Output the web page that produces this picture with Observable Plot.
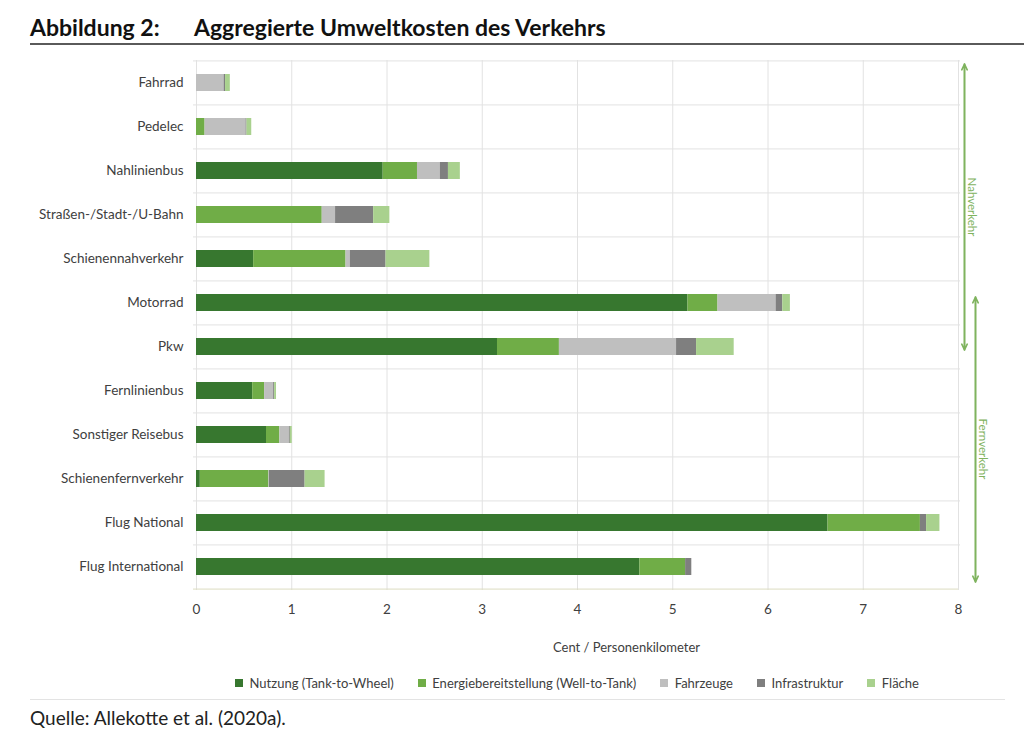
<!DOCTYPE html>
<html><head><meta charset="utf-8">
<script src="https://cdn.jsdelivr.net/npm/d3@7"></script>
<script src="https://cdn.jsdelivr.net/npm/@observablehq/plot@0.6"></script>
<style>
body{margin:0;background:#fff;}
#wrap{position:relative;width:1024px;height:742px;overflow:hidden;font-family:Lato, sans-serif;background:#fff;}
#title{position:absolute;left:30px;top:13px;font-weight:bold;font-size:23px;color:#111;white-space:nowrap;}
#title .t2{position:absolute;left:164px;top:0;}
#hr{position:absolute;left:30px;top:43px;width:994px;height:2px;background:#5a5a5a;}
#chart{position:absolute;left:0;top:50px;}
#legend{position:absolute;left:196px;top:666px;width:762px;display:flex;justify-content:center;}
#legend span{margin-right:24px !important;}
#legend span:last-child{margin-right:0 !important;}
#sep{position:absolute;left:30px;top:699px;width:975px;height:1px;background:#e3e3e3;}
#source{position:absolute;left:30px;top:706px;font-size:19px;color:#222;white-space:nowrap;}
</style>
</head><body>
<div id="wrap">
  <div id="title"><span>Abbildung 2:</span><span class="t2">Aggregierte Umweltkosten des Verkehrs</span></div>
  <div id="hr"></div>
  <div id="chart"></div>
  <div id="legend"></div>
  <div id="sep"></div>
  <div id="source">Quelle: Allekotte et al. (2020a).</div>
</div>
<script>
const categories = ["Fahrrad","Pedelec","Nahlinienbus","Straßen-/Stadt-/U-Bahn","Schienennahverkehr","Motorrad","Pkw","Fernlinienbus","Sonstiger Reisebus","Schienenfernverkehr","Flug National","Flug International"];
const components = ["Nutzung (Tank-to-Wheel)","Energiebereitstellung (Well-to-Tank)","Fahrzeuge","Infrastruktur","Fläche"];
const colors = ["#37772f","#70ad47","#bfbfbf","#7f7f7f","#a9d18e"];

const nutzung       = [0,     0,    1.96,  0,    0.60,  5.16,  3.16,  0.59,  0.735, 0.04,  6.63,  4.655];
const energie       = [0,     0.09, 0.36,  1.32, 0.97,  0.315, 0.65,  0.125, 0.14,  0.72,  0.97,  0.48];
const fahrzeuge     = [0.29,  0.43, 0.24,  0.14, 0.045, 0.61,  1.23,  0.095, 0.10,  0.005, 0,     0];
const infrastruktur = [0.015, 0.01, 0.085, 0.40, 0.375, 0.07,  0.21,  0.01,  0.01,  0.375, 0.065, 0.065];
const flaeche       = [0.05,  0.05, 0.125, 0.17, 0.46,  0.08,  0.395, 0.02,  0.02,  0.21,  0.14,  0];

const xTicks = [0,1,2,3,4,5,6,7,8];
const axisTitle = "Cent / Personenkilometer";

const groups = ["Nahverkehr","Fernverkehr"];
const groupFrom = ["Fahrrad","Motorrad"];
const groupTo = ["Pkw","Flug International"];
const groupLabelAt = ["Straßen-/Stadt-/U-Bahn","Sonstiger Reisebus"];

const series = [nutzung, energie, fahrzeuge, infrastruktur, flaeche];
const data = categories.flatMap((c,i) => components.map((k,j) => ({category:c, component:k, value:series[j][i]})));
const ann = groups.map((g,i) => ({label:g, from:groupFrom[i], to:groupTo[i], at:groupLabelAt[i]}));

const W = 1024, H = 610, mT = 10, mB = 70, mL = 196, mR = 66;
const step = (H - mT - mB) / categories.length;
const xMax = xTicks[xTicks.length-1];
const annColor = "#7fb35e";

function groupMarks(g, dx, extTop, extBottom, labelDx, labelDy) {
  return [
    Plot.arrow([g], {x: xMax, y1: "from", y2: "to", dx, insetStart: -extTop, insetEnd: -extBottom, stroke: annColor, strokeWidth: 1.6, headLength: 6, headAngle: 50}),
    Plot.arrow([g], {x: xMax, y1: "to", y2: "from", dx, insetStart: -extBottom, insetEnd: -extTop, stroke: annColor, strokeWidth: 1.6, headLength: 6, headAngle: 50}),
    Plot.text([g], {x: xMax, y: "at", text: "label", rotate: 90, dx: labelDx, dy: labelDy, fill: annColor, fontSize: 11.5})
  ];
}

const chart = Plot.plot({
  width: W, height: H,
  marginTop: mT, marginBottom: mB, marginLeft: mL, marginRight: mR,
  style: {fontFamily: "Lato, sans-serif", fontSize: "13.5px", color: "#404040", background: "white", overflow: "visible"},
  x: {domain: [0, xMax], ticks: xTicks, tickSize: 0, tickPadding: 14, label: null},
  y: {domain: categories, paddingInner: 0.608, paddingOuter: 0.304, tickSize: 0, tickPadding: 13, label: null},
  color: {domain: components, range: colors},
  marks: [
    Plot.ruleX(xTicks, {stroke: "#e2e2e2"}),
    Plot.ruleY(categories, {dy: -step/2, stroke: "#e2e2e2", insetLeft: -3, insetRight: -2}),
    Plot.ruleY([categories[categories.length-1]], {dy: step/2, stroke: "#dcdcc0", insetLeft: -3}),
    Plot.barX(data, Plot.stackX({x: "value", y: "category", fill: "component"})),
    ...groupMarks(ann[0], 6, 19, 3, 13, -8),
    ...groupMarks(ann[1], 17, 6, 15, 24, 14),
    Plot.text([axisTitle], {text: d => d, frameAnchor: "bottom", dx: 49, dy: 61, fontSize: 13, fill: "#404040"})
  ]
});
document.getElementById("chart").appendChild(chart);

const leg = Plot.legend({
  color: {domain: components, range: colors},
  legend: "swatches", swatchSize: 8, className: "lg",
  style: {fontFamily: "Lato, sans-serif", fontSize: "13px", color: "#404040"}
});
document.getElementById("legend").appendChild(leg);
</script>
</body></html>
